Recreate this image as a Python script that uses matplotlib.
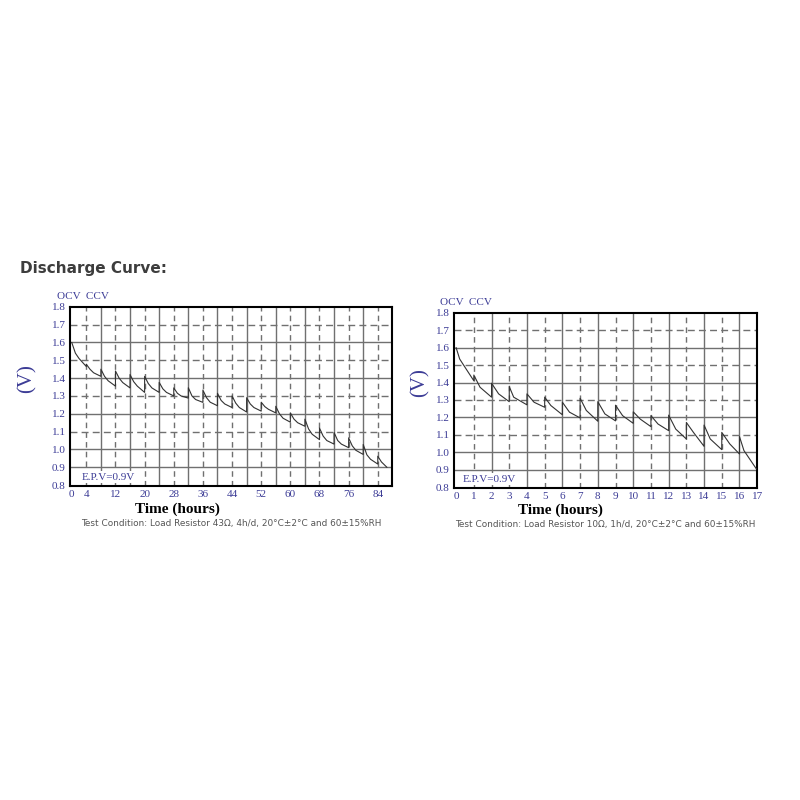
import matplotlib.pyplot as plt

# 43 ohm, 4h/d discharge (hours, volts)
t43 = [0, 1, 2, 4, 4, 5, 6, 8, 8, 9, 10, 12, 12, 13, 14, 16, 16, 17, 18, 20,
       20, 21, 22, 24, 24, 25, 26, 28, 28, 29, 30, 32, 32, 33, 34, 36,
       36, 37, 38, 40, 40, 41, 42, 44, 44, 45, 46, 48, 48, 49, 50, 52,
       52, 53, 54, 56, 56, 57, 58, 60, 60, 61, 62, 64, 64, 65, 66, 68,
       68, 69, 70, 72, 72, 73, 74, 76, 76, 77, 78, 80, 80, 81, 82, 84,
       84, 85, 86.5]
v43 = [1.60, 1.54, 1.51, 1.465, 1.478, 1.45, 1.43, 1.41, 1.45, 1.41, 1.385, 1.355,
       1.44, 1.40, 1.375, 1.345, 1.42, 1.38, 1.355, 1.32,
       1.41, 1.37, 1.345, 1.32, 1.376, 1.34, 1.32, 1.30, 1.345, 1.315, 1.30, 1.288,
       1.346, 1.30, 1.28, 1.264, 1.333, 1.29, 1.265, 1.245,
       1.315, 1.275, 1.255, 1.235, 1.30, 1.26, 1.235, 1.21,
       1.29, 1.255, 1.235, 1.215, 1.265, 1.24, 1.225, 1.205,
       1.242, 1.20, 1.175, 1.153, 1.205, 1.17, 1.15, 1.13,
       1.17, 1.115, 1.085, 1.055, 1.12, 1.075, 1.05, 1.03,
       1.095, 1.05, 1.03, 1.01, 1.065, 1.02, 0.995, 0.972,
       1.028, 0.97, 0.945, 0.918, 0.962, 0.93, 0.90]

# 10 ohm, 1h/d discharge
t10 = [0, 0.2, 0.55, 1, 1, 1.35, 2, 2, 2.4, 3, 3, 3.25, 4, 4, 4.4, 5,
       5, 5.35, 6, 6, 6.4, 7, 7, 7.35, 8, 8, 8.4, 9, 9, 9.4, 10,
       10, 10.4, 11, 11, 11.4, 12, 12, 12.4, 13, 13, 13.4, 14,
       14, 14.35, 15, 15, 15.45, 16, 16, 16.25, 16.95]
v10 = [1.60, 1.535, 1.48, 1.41, 1.443, 1.373, 1.316, 1.396, 1.335, 1.29,
       1.377, 1.316, 1.272, 1.335, 1.287, 1.258, 1.316, 1.268, 1.215,
       1.287, 1.23, 1.197, 1.31, 1.24, 1.178, 1.29, 1.22, 1.18,
       1.27, 1.21, 1.166, 1.232, 1.19, 1.147, 1.21, 1.162, 1.124,
       1.213, 1.133, 1.076, 1.171, 1.114, 1.034, 1.156, 1.076, 1.015,
       1.114, 1.048, 0.99, 1.09, 1.01, 0.905]

yticks = [0.8, 0.9, 1.0, 1.1, 1.2, 1.3, 1.4, 1.5, 1.6, 1.7, 1.8]
xt43 = [0, 4, 12, 20, 28, 36, 44, 52, 60, 68, 76, 84]
xt10 = list(range(18))
captions = ["Test Condition: Load Resistor 43\u03a9, 4h/d, 20\u00b0C\u00b12\u00b0C and 60\u00b115%RH",
            "Test Condition: Load Resistor 10\u03a9, 1h/d, 20\u00b0C\u00b12\u00b0C and 60\u00b115%RH"]

blue = '#3c3c96'
serif = 'Liberation Serif'

fig = plt.figure(figsize=(8, 8), dpi=100)
fig.text(0.025, 0.659, "Discharge Curve:", fontsize=11, fontweight='bold',
         color='#3d3d3d', family='DejaVu Sans')

ax1 = fig.add_axes([0.0875, 0.3925, 0.4025, 0.224])
ax2 = fig.add_axes([0.5675, 0.39, 0.379, 0.219])

def style(ax, t, v, xmax, step, vlines, xticks, cap, vx, ocvx, epx, xlx):
    dashed_h = [1.7, 1.5, 1.3, 1.1]
    for y in yticks[1:-1]:
        ls = (0, (5, 3)) if round(y, 1) in dashed_h else '-'
        ax.axhline(y, color='#707070', lw=1.0, ls=ls, zorder=1)
    for i, x in enumerate(vlines):
        ls = (0, (4, 3)) if i % 2 == 0 else '-'
        ax.axvline(x, color='#707070', lw=1.0, ls=ls, zorder=1)
    ax.plot(t, v, color='#333333', lw=0.8, zorder=3)
    ax.set_xlim(-step * 0.12, xmax)
    ax.set_ylim(0.795, 1.8)
    ax.set_yticks(yticks)
    ax.set_yticklabels(["%.1f" % y for y in yticks])
    ax.set_xticks(xticks)
    ax.set_xticklabels([str(x) for x in xticks])
    ax.tick_params(length=0, labelsize=8, labelcolor=blue, pad=3)
    for lab in ax.get_xticklabels() + ax.get_yticklabels():
        lab.set_family(serif)
    for s in ax.spines.values():
        s.set_linewidth(1.5)
        s.set_color('black')
    ax.text(vx, 0.6, "(V)", transform=ax.transAxes, rotation=90, fontsize=15,
            color=blue, family=serif, ha='center', va='center')
    ax.text(ocvx, 1.06, "OCV  CCV", transform=ax.transAxes, fontsize=8,
            color=blue, family=serif, ha='left', va='center')
    ax.text(epx, 0.05, "E.P.V=0.9V", transform=ax.transAxes, fontsize=8,
            color=blue, family=serif, ha='left', va='center',
            bbox=dict(facecolor='white', edgecolor='none', pad=1))
    ax.text(xlx, -0.128, "Time (hours)", transform=ax.transAxes, fontsize=11,
            fontweight='bold', family=serif, ha='center', va='center')
    ax.text(0.5, -0.21, cap, transform=ax.transAxes, fontsize=6.4,
            color='#555555', family='DejaVu Sans', ha='center', va='center')

style(ax1, t43, v43, 87.9, 4, list(range(4, 88, 4)), xt43, captions[0],
      -0.134, -0.04, 0.037, 0.335)
style(ax2, t10, v10, 17, 1, list(range(1, 17)), xt10, captions[1],
      -0.112, -0.046, 0.03, 0.35)

fig.savefig("out.png", dpi=100)
